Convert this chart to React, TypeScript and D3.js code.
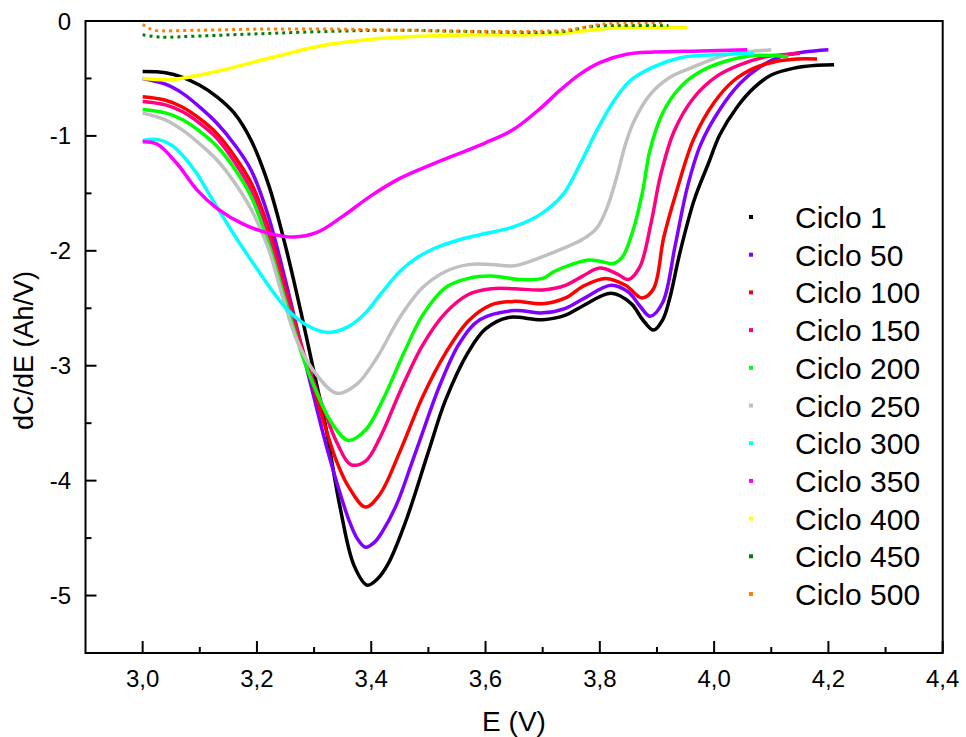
import React from "react";
import * as d3 from "d3";

const W = 966;
const H = 737;

const xTicksMajor = [3.0, 3.2, 3.4, 3.6, 3.8, 4.0, 4.2, 4.4];
const xTicksMinor = [3.1, 3.3, 3.5, 3.7, 3.9, 4.1, 4.3];
const yTicksMajor = [0, -1, -2, -3, -4, -5];
const yTicksMinor = [-0.5, -1.5, -2.5, -3.5, -4.5];

const seriesNames = ["Ciclo 1", "Ciclo 50", "Ciclo 100", "Ciclo 150", "Ciclo 200", "Ciclo 250", "Ciclo 300", "Ciclo 350", "Ciclo 400", "Ciclo 450", "Ciclo 500"];
const seriesColors = ["#000000", "#8000FF", "#FF0000", "#FF0080", "#00FF00", "#C0C0C0", "#00FFFF", "#FF00FF", "#FFFF00", "#008000", "#FF8000"];
const seriesDotted = [false, false, false, false, false, false, false, false, false, true, true];

const c1: [number, number][] = [
  [3.0, -0.44], [3.04, -0.45], [3.07, -0.49], [3.1, -0.56], [3.13, -0.66], [3.16, -0.8], [3.19, -1.04],
  [3.22, -1.42], [3.25, -1.96], [3.28, -2.6], [3.3, -3.06], [3.32, -3.52], [3.345, -4.22], [3.37, -4.74],
  [3.393, -4.91], [3.41, -4.86], [3.43, -4.72], [3.46, -4.36], [3.5, -3.75], [3.53, -3.3], [3.57, -2.88],
  [3.6, -2.68], [3.64, -2.58], [3.7, -2.6], [3.74, -2.56], [3.77, -2.48], [3.82, -2.37], [3.855, -2.46],
  [3.875, -2.6], [3.894, -2.69], [3.91, -2.6], [3.922, -2.42], [3.94, -2.02], [3.965, -1.56], [3.99, -1.24],
  [4.01, -0.99], [4.04, -0.75], [4.07, -0.58], [4.1, -0.47], [4.14, -0.41], [4.18, -0.385], [4.21, -0.38],
];
const c50: [number, number][] = [
  [3.0, -0.5], [3.04, -0.55], [3.07, -0.63], [3.1, -0.75], [3.13, -0.89], [3.16, -1.07], [3.19, -1.3],
  [3.22, -1.7], [3.25, -2.26], [3.28, -2.88], [3.3, -3.28], [3.32, -3.67], [3.34, -4.02], [3.36, -4.33],
  [3.375, -4.5], [3.39, -4.58], [3.405, -4.54], [3.42, -4.44], [3.445, -4.2], [3.47, -3.86], [3.49, -3.58],
  [3.52, -3.17], [3.555, -2.8], [3.59, -2.6], [3.65, -2.52], [3.7, -2.54], [3.74, -2.5], [3.77, -2.42],
  [3.82, -2.3], [3.85, -2.36], [3.87, -2.48], [3.888, -2.57], [3.91, -2.45], [3.932, -1.95], [3.953, -1.45],
  [3.976, -1.08], [4.01, -0.77], [4.046, -0.54], [4.08, -0.4], [4.116, -0.31], [4.157, -0.27], [4.2, -0.25],
];
const c100: [number, number][] = [
  [3.0, -0.66], [3.04, -0.69], [3.07, -0.75], [3.1, -0.85], [3.13, -0.98], [3.16, -1.17], [3.19, -1.41],
  [3.22, -1.8], [3.25, -2.33], [3.28, -2.86], [3.3, -3.2], [3.32, -3.54], [3.34, -3.84], [3.36, -4.05],
  [3.39, -4.23], [3.415, -4.12], [3.45, -3.75], [3.49, -3.27], [3.53, -2.89], [3.57, -2.61], [3.61, -2.47],
  [3.65, -2.44], [3.7, -2.46], [3.74, -2.41], [3.77, -2.31], [3.81, -2.24], [3.845, -2.3], [3.874, -2.41],
  [3.894, -2.33], [3.912, -1.88], [3.935, -1.47], [3.964, -1.03], [4.0, -0.71], [4.034, -0.52], [4.07, -0.41],
  [4.11, -0.35], [4.145, -0.33], [4.18, -0.33],
];
const c150: [number, number][] = [
  [3.0, -0.7], [3.04, -0.73], [3.07, -0.79], [3.1, -0.89], [3.13, -1.02], [3.16, -1.22], [3.19, -1.47],
  [3.22, -1.86], [3.25, -2.38], [3.28, -2.88], [3.3, -3.15], [3.32, -3.42], [3.34, -3.67], [3.364, -3.86],
  [3.39, -3.83], [3.415, -3.63], [3.45, -3.23], [3.49, -2.82], [3.53, -2.54], [3.57, -2.38], [3.61, -2.33],
  [3.65, -2.33], [3.7, -2.34], [3.74, -2.3], [3.77, -2.22], [3.8, -2.15], [3.83, -2.2], [3.85, -2.25],
  [3.87, -2.14], [3.89, -1.75], [3.906, -1.35], [3.93, -0.96], [3.964, -0.67], [4.005, -0.48], [4.046, -0.38],
  [4.093, -0.31], [4.13, -0.29], [4.15, -0.28],
];
const c200: [number, number][] = [
  [3.0, -0.77], [3.04, -0.8], [3.07, -0.86], [3.1, -0.96], [3.13, -1.09], [3.16, -1.28], [3.19, -1.53],
  [3.22, -1.93], [3.25, -2.44], [3.28, -2.92], [3.3, -3.18], [3.33, -3.49], [3.36, -3.65], [3.39, -3.56],
  [3.42, -3.3], [3.457, -2.89], [3.49, -2.56], [3.53, -2.32], [3.57, -2.24], [3.61, -2.22], [3.66, -2.25],
  [3.7, -2.24], [3.72, -2.18], [3.75, -2.12], [3.78, -2.08], [3.8, -2.09], [3.824, -2.11], [3.84, -2.05],
  [3.86, -1.79], [3.875, -1.48], [3.888, -1.12], [3.91, -0.8], [3.94, -0.58], [3.976, -0.44], [4.02, -0.35],
  [4.07, -0.3], [4.13, -0.31],
];
const c250: [number, number][] = [
  [3.0, -0.8], [3.04, -0.86], [3.07, -0.95], [3.1, -1.07], [3.13, -1.21], [3.16, -1.4], [3.19, -1.64],
  [3.22, -1.98], [3.245, -2.4], [3.27, -2.78], [3.3, -3.05], [3.34, -3.24], [3.375, -3.16], [3.41, -2.93],
  [3.45, -2.58], [3.49, -2.32], [3.53, -2.18], [3.57, -2.12], [3.61, -2.12], [3.65, -2.13], [3.7, -2.05],
  [3.74, -1.97], [3.77, -1.9], [3.795, -1.8], [3.813, -1.62], [3.83, -1.35], [3.845, -1.07], [3.86, -0.87],
  [3.888, -0.64], [3.923, -0.49], [3.964, -0.4], [4.01, -0.31], [4.04, -0.28], [4.1, -0.25],
];
const c300: [number, number][] = [
  [3.0, -1.04], [3.025, -1.03], [3.05, -1.08], [3.07, -1.17], [3.095, -1.33], [3.118, -1.52], [3.14, -1.7],
  [3.16, -1.86], [3.18, -2.01], [3.206, -2.2], [3.23, -2.37], [3.253, -2.51], [3.288, -2.65], [3.325, -2.71],
  [3.36, -2.66], [3.39, -2.54], [3.416, -2.38], [3.45, -2.18], [3.48, -2.06], [3.51, -1.98], [3.55, -1.91],
  [3.59, -1.86], [3.65, -1.79], [3.7, -1.67], [3.737, -1.5], [3.766, -1.24], [3.795, -0.95], [3.824, -0.7],
  [3.853, -0.52], [3.894, -0.4], [3.941, -0.32], [3.976, -0.3], [4.07, -0.28],
];
const c350: [number, number][] = [
  [3.0, -1.05], [3.025, -1.07], [3.06, -1.24], [3.095, -1.47], [3.13, -1.63], [3.177, -1.77], [3.223, -1.85],
  [3.264, -1.88], [3.305, -1.84], [3.35, -1.7], [3.4, -1.52], [3.45, -1.37], [3.5, -1.26], [3.55, -1.16],
  [3.6, -1.06], [3.65, -0.94], [3.696, -0.76], [3.731, -0.6], [3.766, -0.46], [3.801, -0.36], [3.847, -0.29],
  [3.894, -0.27], [3.976, -0.26], [4.058, -0.25],
];
const c400: [number, number][] = [
  [3.0, -0.5], [3.05, -0.51], [3.1, -0.47], [3.154, -0.41], [3.2, -0.35], [3.241, -0.3], [3.29, -0.24],
  [3.33, -0.2], [3.38, -0.17], [3.42, -0.15], [3.5, -0.13], [3.59, -0.12], [3.68, -0.12], [3.725, -0.11],
  [3.766, -0.09], [3.8, -0.07], [3.82, -0.06], [3.874, -0.055], [3.953, -0.055],
];
const c450: [number, number][] = [
  [3.0, -0.12], [3.03, -0.14], [3.1, -0.13], [3.21, -0.11], [3.33, -0.09], [3.45, -0.08], [3.56, -0.09],
  [3.68, -0.1], [3.74, -0.09], [3.78, -0.05], [3.81, -0.04], [3.84, -0.04], [3.92, -0.04],
];
const c500: [number, number][] = [
  [3.0, -0.03], [3.01, -0.06], [3.02, -0.08], [3.1, -0.08], [3.21, -0.07], [3.33, -0.07], [3.45, -0.08],
  [3.56, -0.09], [3.68, -0.09], [3.74, -0.08], [3.78, -0.05], [3.8, -0.03], [3.83, -0.02], [3.91, -0.015],
];

const seriesData = [c1, c50, c100, c150, c200, c250, c300, c350, c400, c450, c500];

const fmt = (v: number) => v.toFixed(1).replace(".", ",");

export default function App() {
  const x = d3.scaleLinear().domain([2.9, 4.4]).range([85.5, 942.7]);
  const y = d3.scaleLinear().domain([0, -5.5]).range([21, 653]);
  const line = d3
    .line<[number, number]>()
    .x((d) => x(d[0]))
    .y((d) => y(d[1]))
    .curve(d3.curveCatmullRom.alpha(0.5));

  const font = "'Liberation Sans', Arial, sans-serif";
  const x0 = x.range()[0];
  const x1 = x.range()[1];
  const y0 = y.range()[1];
  const yTop = y.range()[0];

  return (
    <svg width={W} height={H} style={{ position: "absolute", left: 0, top: 0, background: "#fff" }} fontFamily={font}>
      <rect x={0} y={0} width={W} height={H} fill="#fff" />
      <defs>
        <clipPath id="plotclip">
          <rect x={x0} y={yTop} width={x1 - x0} height={y0 - yTop} />
        </clipPath>
      </defs>
      <g clipPath="url(#plotclip)">
        {seriesData.map((d, i) => (
          <path
            key={seriesNames[i]}
            d={line(d) || ""}
            fill="none"
            stroke={seriesColors[i]}
            strokeWidth={seriesDotted[i] ? 3 : 3.5}
            strokeDasharray={seriesDotted[i] ? "3 4" : undefined}
            strokeLinejoin="round"
          />
        ))}
      </g>
      <rect x={x0} y={yTop} width={x1 - x0} height={y0 - yTop} fill="none" stroke="#000" strokeWidth={2} />
      {xTicksMajor.map((t) => (
        <g key={"xm" + t}>
          <line x1={x(t)} x2={x(t)} y1={y0} y2={y0 - 12} stroke="#000" strokeWidth={2} />
          <text x={x(t)} y={y0 + 34} fontSize={24} textAnchor="middle" fill="#000">
            {fmt(t)}
          </text>
        </g>
      ))}
      {xTicksMinor.map((t) => (
        <line key={"xn" + t} x1={x(t)} x2={x(t)} y1={y0} y2={y0 - 6} stroke="#000" strokeWidth={2} />
      ))}
      {yTicksMajor.map((t) => (
        <g key={"ym" + t}>
          <line x1={x0} x2={x0 + 11} y1={y(t)} y2={y(t)} stroke="#000" strokeWidth={2} />
          <text x={71} y={y(t) + 8.5} fontSize={24} textAnchor="end" fill="#000">
            {t === 0 ? "0" : String(t)}
          </text>
        </g>
      ))}
      {yTicksMinor.map((t) => (
        <line key={"yn" + t} x1={x0} x2={x0 + 6} y1={y(t)} y2={y(t)} stroke="#000" strokeWidth={2} />
      ))}
      <text x={514} y={731} fontSize={28} textAnchor="middle" fill="#000">
        E (V)
      </text>
      <text transform="translate(33,350.5) rotate(-90)" fontSize={27} textAnchor="middle" fill="#000">
        dC/dE (Ah/V)
      </text>
      {seriesNames.map((n, i) => {
        const ly = 217 + i * 37.7;
        return (
          <g key={"lg" + n}>
            <rect x={749} y={ly - 2} width={4} height={4} fill={seriesColors[i]} />
            <text x={795} y={ly + 11} fontSize={30} fill="#000">
              {n}
            </text>
          </g>
        );
      })}
    </svg>
  );
}
